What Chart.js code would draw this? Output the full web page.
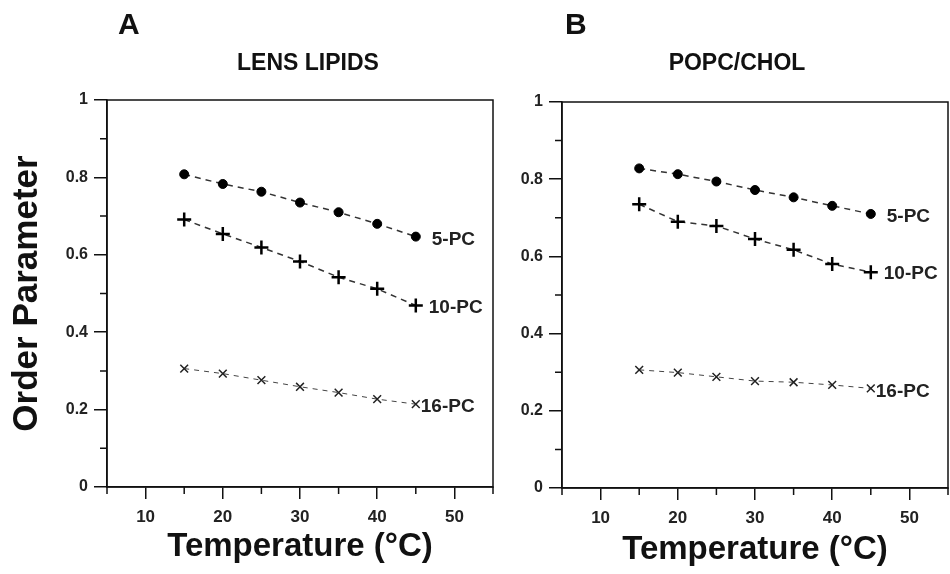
<!DOCTYPE html>
<html>
<head>
<meta charset="utf-8">
<script src="https://cdn.jsdelivr.net/npm/chart.js@4.4.1/dist/chart.umd.min.js"></script>
<style>
  body { margin: 0; background: #fff; }
  #wrap { position: relative; width: 950px; height: 574px; }
  .panel { position: absolute; top: 0; height: 574px; }
</style>
</head>
<body>
<div id="wrap">
  <div class="panel" style="left:0;width:500px"><canvas id="chartA"></canvas></div>
  <div class="panel" style="left:500px;width:450px"><canvas id="chartB"></canvas></div>
</div>
<script>
// temperatures (deg C) and order parameters
var temps = [15, 20, 25, 30, 35, 40, 45]
var lensPC5 = [0.808, 0.783, 0.763, 0.735, 0.710, 0.680, 0.647]
var lensPC10 = [0.691, 0.654, 0.619, 0.583, 0.542, 0.512, 0.469]
var lensPC16 = [0.306, 0.293, 0.276, 0.259, 0.244, 0.227, 0.214]
var popcPC5 = [0.828, 0.813, 0.794, 0.772, 0.753, 0.731, 0.710]
var popcPC10 = [0.735, 0.690, 0.679, 0.645, 0.617, 0.580, 0.559]
var popcPC16 = [0.306, 0.299, 0.288, 0.277, 0.274, 0.267, 0.258]
var seriesNames = ['5-PC', '10-PC', '16-PC']
var xTicks = [10, 20, 30, 40, 50]
var xMinor = [5, 15, 25, 35, 45, 55]
var yTicks = [0, 0.2, 0.4, 0.6, 0.8, 1]
var yMinor = [0.1, 0.3, 0.5, 0.7, 0.9]

var FONT = '"Liberation Sans", Arial, Helvetica, sans-serif'
var INK = '#111'

Chart.defaults.font.family = FONT
Chart.defaults.color = INK

function toPoints(values) {
  return values.map(function (v, i) {
    return { x: temps[i], y: v }
  })
}

// box, minor ticks, panel letter, heading and the end-of-line labels
var panelDecor = {
  id: 'panelDecor',
  afterDraw: function (chart) {
    var ctx = chart.ctx
    var area = chart.chartArea
    var xs = chart.scales.x
    var ys = chart.scales.y
    var opts = chart.options.plugins.panelDecor
    ctx.save()
    ctx.strokeStyle = INK
    ctx.lineWidth = 1.5
    ctx.strokeRect(area.left, area.top, area.right - area.left, area.bottom - area.top)
    ctx.beginPath()
    yMinor.forEach(function (v) {
      var py = ys.getPixelForValue(v)
      ctx.moveTo(area.left - 7, py)
      ctx.lineTo(area.left, py)
    })
    xMinor.forEach(function (v) {
      var px = xs.getPixelForValue(v)
      ctx.moveTo(px, area.bottom)
      ctx.lineTo(px, area.bottom + 7)
    })
    ctx.stroke()

    ctx.fillStyle = INK
    ctx.textBaseline = 'middle'
    ctx.textAlign = 'left'
    ctx.font = 'bold 30px ' + FONT
    ctx.fillText(opts.letter, area.left + opts.letterDx, 26)
    ctx.textAlign = 'center'
    ctx.font = 'bold 23px ' + FONT
    ctx.fillText(opts.heading, (area.left + area.right) / 2 + opts.headingDx, 64)

    ctx.textAlign = 'left'
    ctx.font = 'bold 19px ' + FONT
    ctx.fillStyle = '#222'
    chart.data.datasets.forEach(function (ds, i) {
      var meta = chart.getDatasetMeta(i)
      var pt = meta.data[meta.data.length - 1]
      ctx.fillText(ds.label, pt.x + opts.labelDx[i], pt.y + opts.labelDy[i])
    })
    ctx.restore()
  }
}

function makeDatasets(pc5, pc10, pc16) {
  return [
    {
      label: seriesNames[0],
      data: toPoints(pc5),
      borderColor: '#333',
      borderWidth: 1.5,
      borderDash: [6, 5],
      pointStyle: 'circle',
      pointRadius: 4.5,
      pointBackgroundColor: '#000',
      pointBorderColor: '#000',
      pointBorderWidth: 1,
    },
    {
      label: seriesNames[1],
      data: toPoints(pc10),
      borderColor: '#333',
      borderWidth: 1.5,
      borderDash: [6, 5],
      pointStyle: 'cross',
      pointRadius: 7,
      pointBorderColor: '#000',
      pointBorderWidth: 2.5,
    },
    {
      label: seriesNames[2],
      data: toPoints(pc16),
      borderColor: '#444',
      borderWidth: 1,
      borderDash: [5, 5],
      pointStyle: 'crossRot',
      pointRadius: 5.5,
      pointBorderColor: '#222',
      pointBorderWidth: 1.5,
    },
  ]
}

function makeOptions(cfg) {
  return {
    responsive: true,
    maintainAspectRatio: false,
    animation: false,
    layout: { autoPadding: false, padding: { top: cfg.top, right: cfg.right, left: 0, bottom: 0 } },
    plugins: {
      legend: { display: false },
      tooltip: { enabled: false },
      panelDecor: {
        letter: cfg.letter,
        letterDx: cfg.letterDx,
        heading: cfg.heading,
        headingDx: cfg.headingDx,
        labelDx: [16, 13, 5],
        labelDy: [3, 2, 3],
      },
    },
    scales: {
      x: {
        type: 'linear',
        min: 5,
        max: 55,
        afterBuildTicks: function (scale) {
          scale.ticks = xTicks.map(function (v) { return { value: v } })
        },
        afterFit: function (scale) { scale.height = cfg.xHeight },
        ticks: {
          color: '#222',
          padding: 8,
          font: { size: 17, weight: 'bold' },
          callback: function (v) { return String(v) },
        },
        grid: { drawOnChartArea: false, drawTicks: true, tickLength: 12, color: INK, lineWidth: 1.5 },
        border: { color: INK, width: 1.5 },
        title: {
          display: true,
          text: 'Temperature (°C)',
          color: INK,
          font: { size: 33, weight: 'bold' },
          padding: { top: 0, bottom: cfg.xTitlePad },
        },
      },
      y: {
        min: 0,
        max: 1,
        afterBuildTicks: function (scale) {
          scale.ticks = yTicks.map(function (v) { return { value: v } })
        },
        afterFit: function (scale) { scale.width = cfg.yWidth },
        ticks: {
          color: '#222',
          padding: 6,
          font: { size: 16, weight: 'bold' },
          callback: function (v) { return String(v) },
        },
        grid: { drawOnChartArea: false, drawTicks: true, tickLength: 13, color: INK, lineWidth: 1.5 },
        border: { color: INK, width: 1.5 },
        title: {
          display: cfg.yTitle,
          text: 'Order Parameter',
          color: INK,
          font: { size: 35, weight: 'bold' },
          padding: { top: 6, bottom: 0 },
        },
      },
    },
  }
}

new Chart(document.getElementById('chartA'), {
  type: 'line',
  data: { datasets: makeDatasets(lensPC5, lensPC10, lensPC16) },
  options: makeOptions({
    letter: 'A', letterDx: 11, heading: 'LENS LIPIDS', headingDx: 8,
    top: 100, right: 7, yWidth: 107, xHeight: 87, xTitlePad: 7, yTitle: true,
  }),
  plugins: [panelDecor],
})

new Chart(document.getElementById('chartB'), {
  type: 'line',
  data: { datasets: makeDatasets(popcPC5, popcPC10, popcPC16) },
  options: makeOptions({
    letter: 'B', letterDx: 3, heading: 'POPC/CHOL', headingDx: -18,
    top: 102, right: 2, yWidth: 62, xHeight: 86, xTitlePad: 4, yTitle: false,
  }),
  plugins: [panelDecor],
})
</script>
</body>
</html>
